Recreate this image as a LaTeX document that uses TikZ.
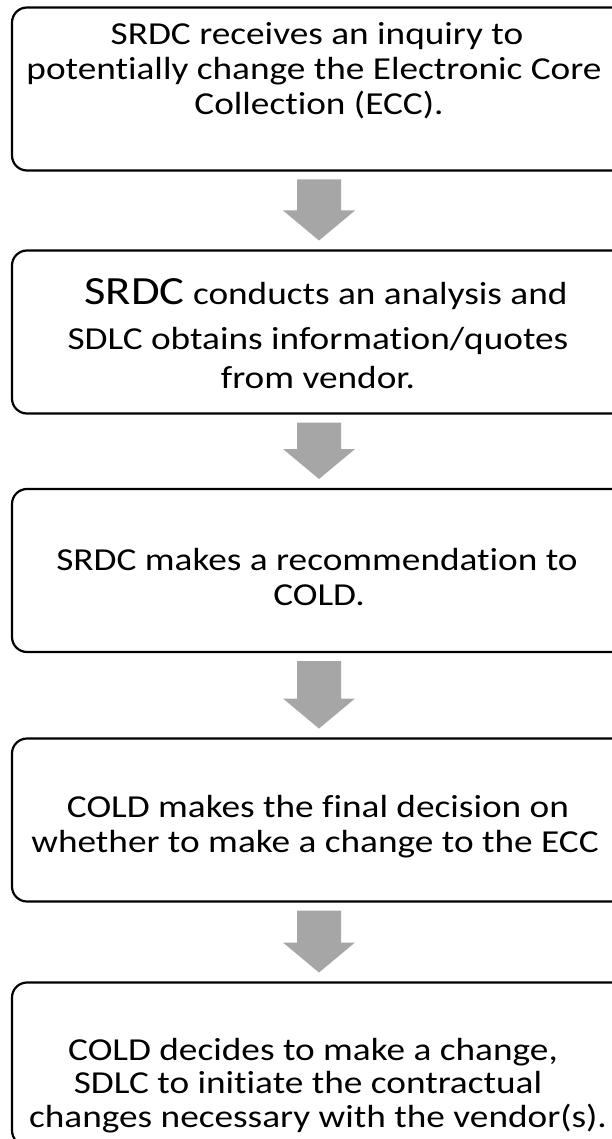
\documentclass[tikz,border=0pt]{standalone}
\usepackage{fontspec}
\setmainfont{Carlito}[FakeStretch=1.165,Ligatures=CommonOff]
\usetikzlibrary{calc}
\definecolor{arrowgray}{HTML}{A6A6A6}
\begin{document}
\begin{tikzpicture}[x=1pt,y=-1pt,
  stepbox/.style={draw=black, line width=2.2pt, rounded corners=15pt,
    minimum width=614pt, minimum height=163pt, inner sep=0pt, outer sep=0pt},
  txt/.style={anchor=base, inner sep=0pt, font=\fontsize{32}{35}\selectfont},
  arrowfill/.style={fill=arrowgray}]
\useasboundingbox (0,0) rectangle (611,1139);
% boxes
\node[stepbox] (b1) at (319,89) {};
\node[stepbox] (b2) at (319,332) {};
\node[stepbox] (b3) at (319,570.5) {};
\node[stepbox] (b4) at (319,820) {};
\node[stepbox] (b5) at (319,1064) {};
% texts
\node[txt] (t1a) at (317,45) {SRDC receives an inquiry to};
\node[txt] (t1b) at (314,80) {potentially change the Electronic Core};
\node[txt] (t1c) at (319,115) {Collection (ECC).};
\node[txt] (t2a) at (326,305) {{\fontsize{40}{44}\selectfont SRDC} conducts an analysis and};
\node[txt] (t2b) at (318,349) {SDLC obtains information/quotes};
\node[txt] (t2c) at (318,388) {from vendor.};
\node[txt] (t3a) at (317,570) {SRDC makes a recommendation to};
\node[txt] (t3b) at (319,605) {COLD.};
\node[txt] (t4a) at (318,817) {COLD makes the final decision on};
\node[txt] (t4b) at (315,852) {whether to make a change to the ECC};
\node[txt] (t5a) at (313,1060) {COLD decides to make a change,};
\node[txt] (t5b) at (308,1093) {SDLC to initiate the contractual};
\node[txt] (t5c) at (318,1127) {changes necessary with the vendor(s).};
% block arrows
\foreach \a/\b in {b1/b2,b2/b3,b3/b4,b4/b5}{
  \fill[arrowfill] let \p1=(\a.south), \p2=(\b.north) in
    (\x1-22pt,\y1-9pt) -- (\x1+22pt,\y1-9pt) -- (\x1+22pt,\y2+40pt)
    -- (\x1+36pt,\y2+40pt) -- (\x1,\y2+10pt) -- (\x1-36pt,\y2+40pt)
    -- (\x1-22pt,\y2+40pt) -- cycle;
}
\end{tikzpicture}
\end{document}
